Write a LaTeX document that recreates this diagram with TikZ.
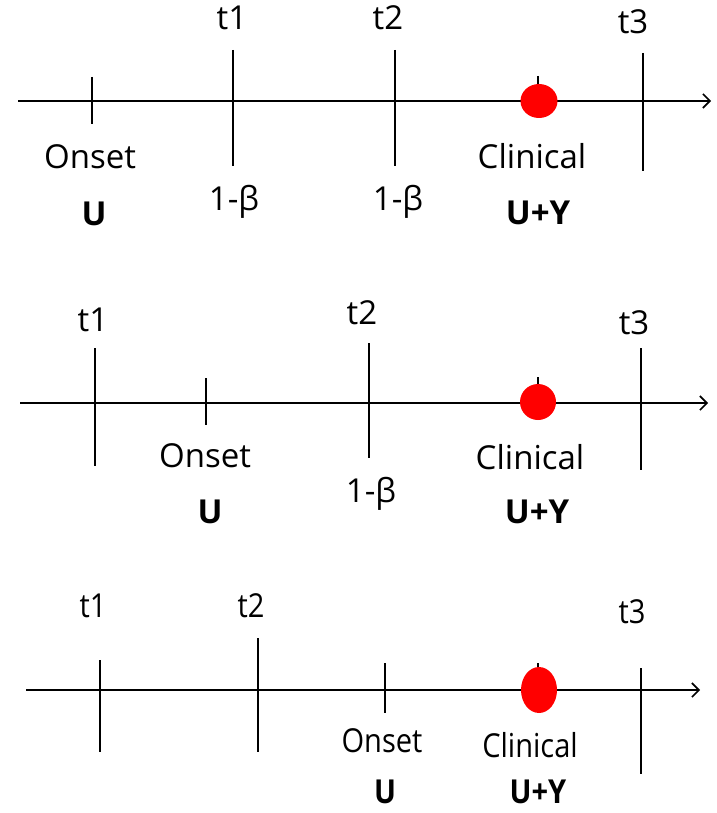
\documentclass[tikz,border=0pt]{standalone}
\usepackage{fontspec}
\setmainfont{Open Sans}
\usetikzlibrary{arrows.meta}
\tikzset{
  axis/.style={line width=2.2pt,-{Straight Barb[length=7pt,width=14pt,line width=1.6pt]}},
  tline/.style={line width=1.4pt},
  ttick/.style={line width=1.8pt},
  lbl/.style={inner sep=0pt,font=\fontsize{33}{38}\selectfont},
  blbl/.style={inner sep=0pt,font=\fontsize{33}{38}\selectfont\bfseries},
  dot/.style={fill=red,draw=none},
}
\begin{document}
\begin{tikzpicture}[x=1pt,y=-1pt]
\useasboundingbox (0,0) rectangle (716,813);
% ---------- panel 1 ----------
\coordinate (a1s) at (18,101);
\coordinate (a1e) at (711,101);
\draw[axis] (a1s) -- (a1e);
\coordinate (o1a) at (92,77); \coordinate (o1b) at (92,124);
\draw[ttick] (o1a) -- (o1b);
\coordinate (t11a) at (233,50); \coordinate (t11b) at (233,166);
\draw[tline] (t11a) -- (t11b);
\coordinate (t21a) at (395,50); \coordinate (t21b) at (395,166);
\draw[tline] (t21a) -- (t21b);
\coordinate (t31a) at (643,53); \coordinate (t31b) at (643,171);
\draw[tline] (t31a) -- (t31b);
\coordinate (c1a) at (538,76); \coordinate (c1b) at (538,100);
\draw[ttick] (c1a) -- (c1b);
\fill[dot] (539,101) ellipse [x radius=18.5, y radius=17];
\node[lbl] (l11) at (232,18) {t1};
\node[lbl] (l21) at (388,18) {t2};
\node[lbl] (l31) at (633,22) {t3};
\node[lbl] (on1) at (90,157) {Onset};
\node[blbl] (u1) at (94,214) {U};
\node[lbl] (b11) at (234,202) {1-β};
\node[lbl] (b21) at (398,202) {1-β};
\node[lbl] (cl1) at (532,156) {Clinical};
\node[blbl] (uy1) at (538,213) {U+Y};
% ---------- panel 2 ----------
\coordinate (a2s) at (20,403);
\coordinate (a2e) at (708,403);
\draw[axis] (a2s) -- (a2e);
\coordinate (t12a) at (95,348); \coordinate (t12b) at (95,466);
\draw[tline] (t12a) -- (t12b);
\coordinate (o2a) at (206,378); \coordinate (o2b) at (206,425);
\draw[ttick] (o2a) -- (o2b);
\coordinate (t22a) at (369,343); \coordinate (t22b) at (369,458);
\draw[tline] (t22a) -- (t22b);
\coordinate (t32a) at (641,348); \coordinate (t32b) at (641,470);
\draw[tline] (t32a) -- (t32b);
\coordinate (c2a) at (538,377); \coordinate (c2b) at (538,402);
\draw[ttick] (c2a) -- (c2b);
\fill[dot] (538,402) ellipse [x radius=18, y radius=18];
\node[lbl] (l12) at (93,320) {t1};
\node[lbl] (l22) at (362,313) {t2};
\node[lbl] (l32) at (634,323) {t3};
\node[lbl] (on2) at (205,456) {Onset};
\node[blbl] (u2) at (210,512) {U};
\node[lbl] (b12) at (371,494) {1-β};
\node[lbl] (cl2) at (530,457) {Clinical};
\node[blbl] (uy2) at (537,512) {U+Y};
% ---------- panel 3 ----------
\coordinate (a3s) at (26,690);
\coordinate (a3e) at (700,690);
\draw[axis] (a3s) -- (a3e);
\coordinate (t13a) at (100,660); \coordinate (t13b) at (100,752);
\draw[tline] (t13a) -- (t13b);
\coordinate (t23a) at (258,638); \coordinate (t23b) at (258,752);
\draw[tline] (t23a) -- (t23b);
\coordinate (o3a) at (385,663); \coordinate (o3b) at (385,713);
\draw[ttick] (o3a) -- (o3b);
\coordinate (t33a) at (641,668); \coordinate (t33b) at (641,774);
\draw[tline] (t33a) -- (t33b);
\coordinate (c3a) at (538,663); \coordinate (c3b) at (538,688);
\draw[ttick] (c3a) -- (c3b);
\fill[dot] (539,690) ellipse [x radius=18, y radius=23];
\begin{scope}[every node/.append style={xscale=0.88}]
\node[lbl] (l13) at (93,606) {t1};
\node[lbl] (l23) at (251,606) {t2};
\node[lbl] (l33) at (632,612) {t3};
\node[lbl] (on3) at (382,741) {Onset};
\node[blbl] (u3) at (385,792) {U};
\node[lbl] (cl3) at (530,745) {Clinical};
\node[blbl] (uy3) at (538,792) {U+Y};
\end{scope}
\end{tikzpicture}
\end{document}
